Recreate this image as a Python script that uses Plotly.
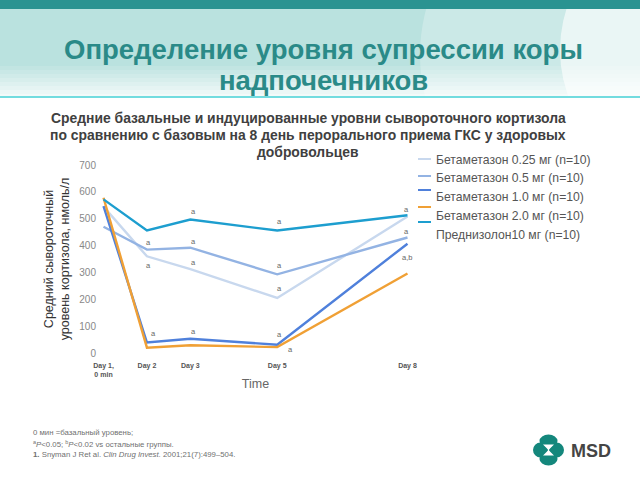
import plotly.graph_objects as go

# ---------------- data ----------------
days = [1, 2, 3, 5, 8]
day_labels = ["<b>Day 1,</b><br><b>0 min</b>", "<b>Day 2</b>", "<b>Day 3</b>", "<b>Day 5</b>", "<b>Day 8</b>"]

series_names = [
    "Бетаметазон 0.25 мг (n=10)",
    "Бетаметазон 0.5 мг (n=10)",
    "Бетаметазон 1.0 мг (n=10)",
    "Бетаметазон 2.0 мг (n=10)",
    "Преднизолон10 мг (n=10)",
]
beta_025 = [545, 360, 312, 205, 508]
beta_05 = [470, 385, 392, 293, 430]
beta_10 = [547, 39, 53, 31, 407]
beta_20 = [578, 20, 29, 22, 296]
pred_10 = [572, 456, 497, 456, 513]
series_values = [beta_025, beta_05, beta_10, beta_20, pred_10]
series_colors = ["#c8d8ee", "#93b3e3", "#4f80db", "#f0a035", "#1d9ecf"]

# significance marks
ann_x = [2.03, 2.03, 2.16, 3.08, 3.08, 3.08, 3.08, 5.05, 5.05, 5.05, 5.05, 5.31, 7.98, 7.98, 7.98]
ann_y = [412, 325, 71, 528, 414, 336, 81, 489, 325, 242, 68, 12, 536, 454, 356]
ann_t = ["a", "a", "a", "a", "a", "a", "a", "a", "a", "a", "a", "a", "a", "a", "a,b"]

# legend swatch / label pixel rows (as in the picture)
leg_swatch_y = [159, 176, 190, 207, 222]
leg_text_y = [160, 178, 197, 216, 235]

title_lines = ["Определение уровня супрессии коры", "надпочечников"]
subtitle_lines = [
    "Средние базальные и индуцированные уровни сывороточного кортизола",
    "по сравнению с базовым на 8 день перорального приема ГКС у здоровых",
    "добровольцев",
]
foot = [
    "0 мин =базальный уровень;",
    "<sup>a</sup><i>P</i>&lt;0.05; <sup>b</sup><i>P</i>&lt;0.02 vs остальные группы.",
    "<b>1.</b> Snyman J Ret al. <i>Clin Drug Invest.</i> 2001;21(7):499–504.",
]

FONT = "Liberation Sans, Arial, sans-serif"

# ---------------- layout geometry ----------------
W, H = 640, 480
ML, MR, MT, MB = 97, 226, 165, 127
PW = W - ML - MR
PH = H - MT - MB


def px(x):
    return (x - ML) / PW


def py(y):
    return (H - MB - y) / PH


fig = go.Figure()
for name, vals, col in zip(series_names, series_values, series_colors):
    fig.add_trace(go.Scatter(
        x=days, y=vals, mode="lines", name=name,
        line=dict(color=col, width=2.4), showlegend=False, hoverinfo="skip",
    ))

annotations = []
for x, y, t in zip(ann_x, ann_y, ann_t):
    annotations.append(dict(x=x, y=y, xref="x", yref="y", text=t, showarrow=False,
                            font=dict(size=7.5, color="#666666", family=FONT)))

# custom legend
shapes = []
for name, col, sy, ty in zip(series_names, series_colors, leg_swatch_y, leg_text_y):
    shapes.append(dict(type="line", xref="paper", yref="paper",
                       x0=px(418), x1=px(431), y0=py(sy), y1=py(sy),
                       line=dict(color=col, width=2)))
    annotations.append(dict(x=px(434), y=py(ty), xref="paper", yref="paper", text=name,
                            showarrow=False, xanchor="left", yanchor="middle",
                            font=dict(size=12.2, color="#555555", family=FONT)))

# header background
shapes.append(dict(type="rect", xref="paper", yref="paper", x0=px(0), x1=px(640),
                   y0=py(96), y1=py(9), fillcolor="#bae2df", line=dict(width=0), layer="below"))
for i in range(8):
    y0 = 66 + i * 4
    shapes.append(dict(type="rect", xref="paper", yref="paper", x0=px(0), x1=px(640),
                       y0=py(y0 + 4), y1=py(y0), fillcolor="white",
                       opacity=0.12 + i * 0.1, line=dict(width=0), layer="below"))
shapes.append(dict(type="circle", xref="paper", yref="paper", x0=px(420), x1=px(900),
                   y0=py(260), y1=py(-150), fillcolor="white", opacity=0.25,
                   line=dict(width=0), layer="below"))
shapes.append(dict(type="circle", xref="paper", yref="paper", x0=px(560), x1=px(900),
                   y0=py(200), y1=py(-100), fillcolor="white", opacity=0.6,
                   line=dict(width=0), layer="below"))
shapes.append(dict(type="rect", xref="paper", yref="paper", x0=px(0), x1=px(640),
                   y0=py(9), y1=py(0), fillcolor="#2a9391", line=dict(width=0), layer="below"))
shapes.append(dict(type="line", xref="paper", yref="paper", x0=px(0), x1=px(640),
                   y0=py(97), y1=py(97), line=dict(color="#45d0d4", width=1.5)))

# MSD logo
teal = "#14877c"
for cx, cy, rx, ry in [(540.5, 450, 7.5, 7.5), (556.5, 450, 7.5, 7.5),
                       (548.5, 441, 9, 6.5), (548.5, 459, 9, 6.5)]:
    shapes.append(dict(type="circle", xref="paper", yref="paper",
                       x0=px(cx - rx), x1=px(cx + rx), y0=py(cy + ry), y1=py(cy - ry),
                       fillcolor=teal, line=dict(width=0)))
hour = (f"M {px(543)},{py(444.5)} L {px(554)},{py(444.5)} L {px(548.5)},{py(450)} Z "
        f"M {px(543)},{py(455.5)} L {px(554)},{py(455.5)} L {px(548.5)},{py(450)} Z")
shapes.append(dict(type="path", xref="paper", yref="paper", path=hour,
                   fillcolor="white", line=dict(width=0)))
annotations.append(dict(x=px(569), y=py(451), xref="paper", yref="paper", text="<b>MSD</b>",
                        showarrow=False, xanchor="left", yanchor="middle",
                        font=dict(size=18, color="#454545", family=FONT)))

# titles
for i, t in enumerate(title_lines):
    annotations.append(dict(x=px(323), y=py(49 + i * 31), xref="paper", yref="paper",
                            text=f"<b>{t}</b>", showarrow=False, xanchor="center", yanchor="middle",
                            font=dict(size=27.5, color="#2a8a88", family=FONT)))
for i, t in enumerate(subtitle_lines):
    annotations.append(dict(x=px(308), y=py(118 + i * 17), xref="paper", yref="paper",
                            text=f"<b>{t}</b>", showarrow=False, xanchor="center", yanchor="middle",
                            font=dict(size=13.9, color="#404040", family=FONT)))

# footnotes
for i, t in enumerate(foot):
    annotations.append(dict(x=px(31), y=py(432 + i * 11.5), xref="paper", yref="paper", text=t,
                            showarrow=False, xanchor="left", yanchor="middle",
                            font=dict(size=7.8, color="#707070", family=FONT)))

fig.update_layout(
    width=W, height=H,
    margin=dict(l=ML, r=MR, t=MT, b=MB),
    paper_bgcolor="white", plot_bgcolor="white",
    font=dict(family=FONT),
    showlegend=False,
    xaxis=dict(range=[0.85, 8.15], tickmode="array", tickvals=days, ticktext=day_labels,
               showgrid=False, zeroline=False, showline=False, ticks="",
               ticklabelstandoff=7,
               tickfont=dict(size=7, color="#555555", family=FONT),
               title=dict(text="Time", font=dict(size=12.5, color="#666666", family=FONT), standoff=2)),
    yaxis=dict(range=[0, 700], tickvals=[0, 100, 200, 300, 400, 500, 600, 700],
               showgrid=False, zeroline=False, showline=False, ticks="",
               tickfont=dict(size=10, color="#888888", family=FONT),
               title=dict(text="Средний сывороточный<br>уровень кортизола, нмоль/л",
                          font=dict(size=12.5, color="#333333", family=FONT), standoff=6)),
    annotations=annotations,
    shapes=shapes,
)

fig.write_html("out.html", config={"displayModeBar": False},
               post_script="document.body.style.margin='0';")
